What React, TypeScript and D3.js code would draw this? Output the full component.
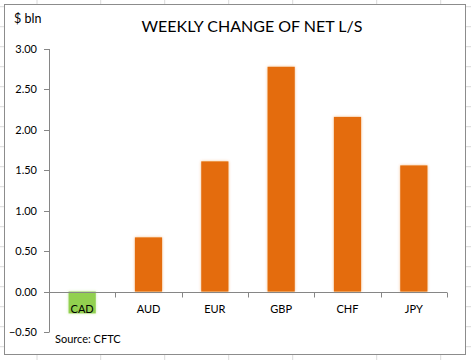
import React from "react";
import * as d3 from "d3";

const categories = ["CAD", "AUD", "EUR", "GBP", "CHF", "JPY"];
const values = [-0.27, 0.67, 1.61, 2.78, 2.16, 1.56];
const barColors = ["#92D050", "#E46C0A", "#E46C0A", "#E46C0A", "#E46C0A", "#E46C0A"];
const yTicks = [-0.5, 0, 0.5, 1, 1.5, 2, 2.5, 3];
const sheetCols = [37, 100.7, 164.7, 228.7, 292.7, 376.7, 440.7];
const sheetRows = d3.range(6.7, 360, 20);

const W = 471;
const H = 360;
const FONT = "Lato, 'Open Sans', sans-serif";

export default function App() {
  const x = d3.scaleBand().domain(categories).range([49, 447]).paddingInner(0.59).paddingOuter(0.295);
  const xTickScale = d3.scaleLinear().domain([0, categories.length]).range([49, 447]);
  const y = d3.scaleLinear().domain([-0.5, 3]).range([332, 49]);
  const fmt = d3.format(".2f");

  return (
    <svg width={W} height={H} style={{ position: "fixed", left: 0, top: 0, background: "#fff" }} fontFamily={FONT}>
      <defs>
        <filter id="glow" x="-30%" y="-30%" width="160%" height="160%">
          <feGaussianBlur in="SourceGraphic" stdDeviation="1.6" result="b" />
          <feComponentTransfer in="b" result="bf">
            <feFuncA type="linear" slope="0.45" />
          </feComponentTransfer>
          <feMerge>
            <feMergeNode in="bf" />
            <feMergeNode in="SourceGraphic" />
          </feMerge>
        </filter>
      </defs>
      {/* spreadsheet grid */}
      {sheetCols.map((c, i) => (
        <line key={"c" + i} x1={c} x2={c} y1={0} y2={H} stroke="#dadada" strokeWidth={1} />
      ))}
      {sheetRows.map((r, i) => (
        <line key={"r" + i} x1={0} x2={W} y1={r} y2={r} stroke="#dadada" strokeWidth={1} />
      ))}
      {/* chart area */}
      <rect x={4.5} y={4.5} width={461} height={350} fill="#fff" stroke="#8c8c8c" strokeWidth={1} />

      <text x={14} y={23} fontSize={12.5} fill="#000">$ bln</text>
      <text x={252} y={32} fontSize={16} textAnchor="middle" fill="#000">WEEKLY CHANGE OF NET L/S</text>

      {/* y axis */}
      <line x1={49.5} x2={49.5} y1={y(3)} y2={y(-0.5)} stroke="#868686" />
      {yTicks.map((t) => (
        <g key={t}>
          <line x1={44} x2={49.5} y1={Math.round(y(t)) + 0.5} y2={Math.round(y(t)) + 0.5} stroke="#868686" />
          <text x={37} y={y(t) + 4} fontSize={11} textAnchor="end" fill="#000">{fmt(t)}</text>
        </g>
      ))}

      {/* bars */}
      {categories.map((c, i) => {
        const v = values[i];
        const y0 = y(0);
        const yv = y(v);
        return (
          <rect
            key={c}
            x={x(c)}
            width={x.bandwidth()}
            y={Math.min(y0, yv)}
            height={Math.abs(yv - y0)}
            fill={barColors[i]}
            filter="url(#glow)"
          />
        );
      })}

      {/* x axis */}
      <line x1={49.5} x2={447} y1={Math.round(y(0)) + 0.5} y2={Math.round(y(0)) + 0.5} stroke="#868686" />
      {d3.range(categories.length + 1).map((i) => (
        <line
          key={"xt" + i}
          x1={Math.round(xTickScale(i)) + 0.5}
          x2={Math.round(xTickScale(i)) + 0.5}
          y1={Math.round(y(0)) + 0.5}
          y2={Math.round(y(0)) + 5.5}
          stroke="#868686"
        />
      ))}
      {categories.map((c) => (
        <text key={"l" + c} x={(x(c) as number) + x.bandwidth() / 2} y={313} fontSize={11} textAnchor="middle" fill="#000">
          {c}
        </text>
      ))}

      <text x={55} y={343} fontSize={11} fill="#000">Source: CFTC</text>
    </svg>
  );
}
